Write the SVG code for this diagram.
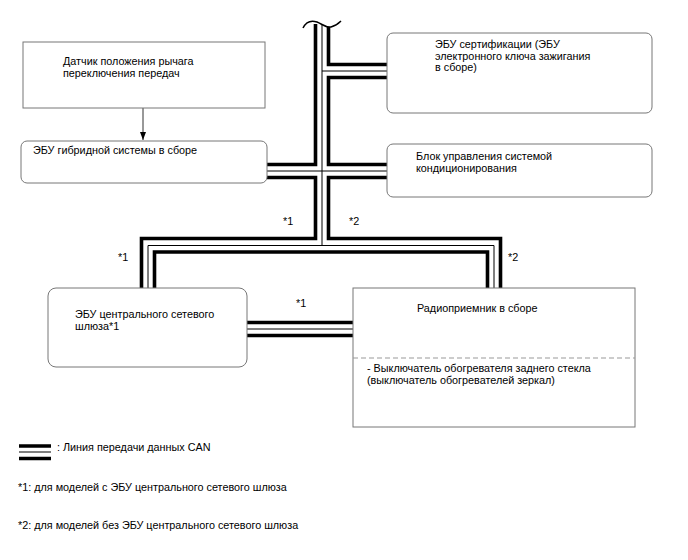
<svg xmlns="http://www.w3.org/2000/svg" width="688" height="560" viewBox="0 0 688 560">
<defs>
<style>
text{font-family:"Liberation Sans",Arial,sans-serif;font-size:10.8px;fill:#000}
.box{fill:#fff;stroke:#777;stroke-width:1}
.thick{fill:none;stroke:#000;stroke-width:3.6}
.thin{fill:none;stroke:#000;stroke-width:1}
.dash{stroke:#999;stroke-width:1;stroke-dasharray:5,3}
</style>
<marker id="ah" viewBox="0 0 8 8" refX="8" refY="4" markerWidth="8" markerHeight="8" markerUnits="userSpaceOnUse" orient="auto">
<path d="M0,1 L8,4 L0,7 Z" fill="#000"/>
</marker>
</defs>
<rect width="688" height="560" fill="#fff"/>

<g id="connectors">
<path d="M303,28 C306,22 311,20 317,22 C322,24 326,28 331,27 C335,26 338,24 341,21" fill="none" stroke="#000" stroke-width="1.5"/>
<line x1="143" y1="108" x2="143" y2="140" stroke="#333" stroke-width="1" marker-end="url(#ah)"/>
<path class="thick" d="M315.5,24 V164.5 H267"/>
<path class="thick" d="M267,177.5 H315.5 V238.5 H141.5 V288"/>
<path class="thick" d="M328.5,27 V64.5 H387"/>
<path class="thick" d="M387,77.5 H328.5 V164.5 H387"/>
<path class="thick" d="M387,177.5 H328.5 V238.5 H500.5 V288"/>
<path class="thick" d="M154.5,288 V252 H487.5 V288"/>
<path class="thin" d="M322,25 V245.5"/>
<path class="thin" d="M148,288 V245.5 H494 V288"/>
<path class="thin" d="M322,71 H387"/>
<path class="thin" d="M267,171 H387"/>
<path class="thick" d="M247,322.5 H353 M247,335.5 H353"/>
<path class="thin" d="M247,329 H353"/>
<text x="283" y="225">*1</text>
<text x="349" y="225">*2</text>
<text x="118" y="261">*1</text>
<text x="508" y="261">*2</text>
<text x="296" y="307">*1</text>
</g>

<g id="shift-sensor">
<rect class="box" x="23" y="42" width="242" height="66"/>
<text x="63" y="65">Датчик положения рычага</text>
<text x="63" y="77">переключения передач</text>
</g>

<g id="hybrid-ecu">
<rect class="box" x="21" y="141" width="246" height="42" rx="6"/>
<text x="33" y="154">ЭБУ гибридной системы в сборе</text>
</g>

<g id="cert-ecu">
<rect class="box" x="387" y="33" width="265" height="80" rx="6"/>
<text x="435" y="48">ЭБУ сертификации (ЭБУ</text>
<text x="435" y="60">электронного ключа зажигания</text>
<text x="435" y="71">в сборе)</text>
</g>

<g id="ac-unit">
<rect class="box" x="387" y="144" width="265" height="53" rx="6"/>
<text x="416" y="160">Блок управления системой</text>
<text x="416" y="172">кондиционирования</text>
</g>

<g id="gateway-ecu">
<rect class="box" x="48" y="288" width="199" height="79" rx="8"/>
<text x="75" y="318">ЭБУ центрального сетевого</text>
<text x="75" y="330">шлюза*1</text>
</g>

<g id="radio">
<rect class="box" x="353" y="288" width="282" height="139"/>
<line class="dash" x1="353" y1="358" x2="635" y2="358"/>
<text x="417" y="312">Радиоприемник в сборе</text>
<text x="367" y="372">- Выключатель обогревателя заднего стекла</text>
<text x="367" y="384">(выключатель обогревателей зеркал)</text>
</g>

<g id="legend">
<path class="thick" d="M19,446 H51 M19,458.5 H51"/>
<path class="thin" d="M19,452 H51"/>
<text x="57" y="451">: Линия передачи данных CAN</text>
<text x="18" y="491">*1: для моделей с ЭБУ центрального сетевого шлюза</text>
<text x="18" y="529">*2: для моделей без ЭБУ центрального сетевого шлюза</text>
</g>
</svg>
